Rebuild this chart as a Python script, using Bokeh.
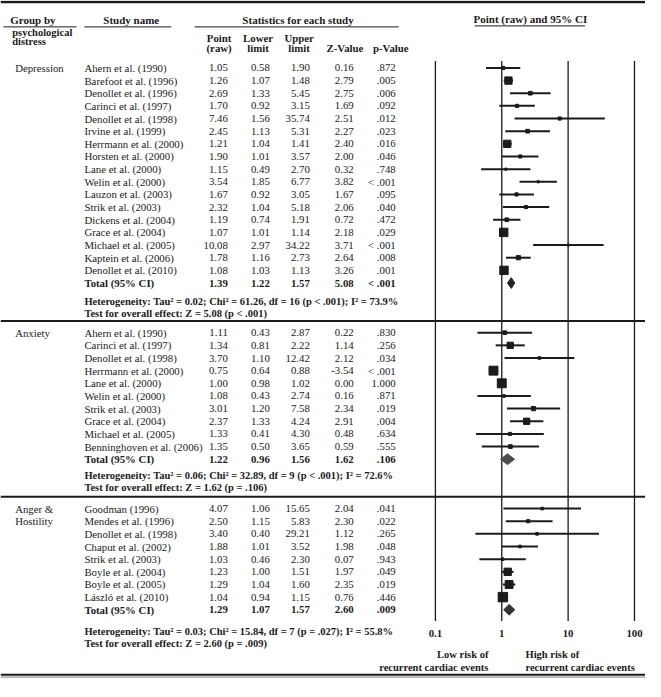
from bokeh.plotting import figure
from bokeh.models import Range1d, LogScale
from bokeh.core.properties import value
from bokeh.embed import file_html
from bokeh.resources import INLINE

# ---------------- data ----------------
group_labels = [["Depression"], ["Anxiety"], ["Anger &", "Hostility"]]

dep_names = ["Ahern et al. (1990)", "Barefoot et al. (1996)", "Denollet et al. (1996)",
             "Carinci et al. (1997)", "Denollet et al. (1998)", "Irvine et al. (1999)",
             "Herrmann et al. (2000)", "Horsten et al. (2000)", "Lane et al. (2000)",
             "Welin et al.  (2000)", "Lauzon et al. (2003)", "Strik et al. (2003)",
             "Dickens et al. (2004)", "Grace et al. (2004)", "Michael et al. (2005)",
             "Kaptein et al. (2006)", "Denollet et al. (2010)"]
dep_point = [1.05, 1.26, 2.69, 1.70, 7.46, 2.45, 1.21, 1.90, 1.15, 3.54, 1.67, 2.32, 1.19, 1.07, 10.08, 1.78, 1.08]
dep_lower = [0.58, 1.07, 1.33, 0.92, 1.56, 1.13, 1.04, 1.01, 0.49, 1.85, 0.92, 1.04, 0.74, 1.01, 2.97, 1.16, 1.03]
dep_upper = [1.90, 1.48, 5.45, 3.15, 35.74, 5.31, 1.41, 3.57, 2.70, 6.77, 3.05, 5.18, 1.91, 1.14, 34.22, 2.73, 1.13]
dep_z = [0.16, 2.79, 2.75, 1.69, 2.51, 2.27, 2.40, 2.00, 0.32, 3.82, 1.67, 2.06, 0.72, 2.18, 3.71, 2.64, 3.26]
dep_p = [".872", ".005", ".006", ".092", ".012", ".023", ".016", ".046", ".748", "< .001",
         ".095", ".040", ".472", ".029", "< .001", ".008", ".001"]
dep_weight = [3, 7, 3.5, 3, 3, 3.5, 7, 3, 2, 2, 3, 3, 3.5, 8, 2, 4, 8]
dep_total = [1.39, 1.22, 1.57, 5.08, "< .001"]
dep_het = "Heterogeneity:  Tau\u00b2 = 0.02; Chi\u00b2 = 61.26, df = 16 (p < .001); I\u00b2 = 73.9%"
dep_test = "Test for overall effect: Z = 5.08 (p < .001)"

anx_names = ["Ahern et al. (1990)", "Carinci et al. (1997)", "Denollet et al. (1998)",
             "Herrmann et al. (2000)", "Lane et al. (2000)", "Welin et al.  (2000)",
             "Strik et al. (2003)", "Grace et al. (2004)", "Michael et al. (2005)",
             "Benninghoven et al. (2006)"]
anx_point = [1.11, 1.34, 3.70, 0.75, 1.00, 1.08, 3.01, 2.37, 1.33, 1.35]
anx_lower = [0.43, 0.81, 1.10, 0.64, 0.98, 0.43, 1.20, 1.33, 0.41, 0.50]
anx_upper = [2.87, 2.22, 12.42, 0.88, 1.02, 2.74, 7.58, 4.24, 4.30, 3.65]
anx_z = [0.22, 1.14, 2.12, -3.54, 0.00, 0.16, 2.34, 2.91, 0.48, 0.59]
anx_p = [".830", ".256", ".034", "< .001", "1.000", ".871", ".019", ".004", ".634", ".555"]
anx_weight = [3.5, 6, 2.5, 8.5, 8.5, 2.5, 4, 6, 3, 3.5]
anx_total = [1.22, 0.96, 1.56, 1.62, ".106"]
anx_het = "Heterogeneity:  Tau\u00b2 = 0.06; Chi\u00b2 = 32.89, df = 9 (p < .001); I\u00b2 = 72.6%"
anx_test = "Test for overall effect: Z = 1.62 (p = .106)"

ang_names = ["Goodman (1996)", "Mendes et al. (1996)", "Denollet et al. (1998)",
             "Chaput et al. (2002)", "Strik et al. (2003)", "Boyle et al. (2004)",
             "Boyle et al. (2005)", "L\u00e1szl\u00f3 et al. (2010)"]
ang_point = [4.07, 2.50, 3.40, 1.88, 1.03, 1.23, 1.29, 1.04]
ang_lower = [1.06, 1.15, 0.40, 1.01, 0.46, 1.00, 1.04, 0.94]
ang_upper = [15.65, 5.83, 29.21, 3.52, 2.30, 1.51, 1.60, 1.15]
ang_z = [2.04, 2.30, 1.12, 1.98, 0.07, 1.97, 2.35, 0.76]
ang_p = [".041", ".022", ".265", ".048", ".943", ".049", ".019", ".446"]
ang_weight = [2.5, 3, 2.5, 2.5, 2.5, 7, 7.5, 9]
ang_total = [1.29, 1.07, 1.57, 2.60, ".009"]
ang_het = "Heterogeneity:  Tau\u00b2 = 0.03; Chi\u00b2 = 15.84, df = 7 (p = .027); I\u00b2 = 55.8%"
ang_test = "Test for overall effect: Z = 2.60 (p = .009)"

tick_values = [0.1, 1, 10, 100]
tick_labels = ["0.1", "1", "10", "100"]

sections = [
    (dep_names, dep_point, dep_lower, dep_upper, dep_z, dep_p, dep_weight, dep_total, dep_het, dep_test),
    (anx_names, anx_point, anx_lower, anx_upper, anx_z, anx_p, anx_weight, anx_total, anx_het, anx_test),
    (ang_names, ang_point, ang_lower, ang_upper, ang_z, ang_p, ang_weight, ang_total, ang_het, ang_test),
]

# ---------------- layout (reference pixel coords) ----------------
W, H = 661, 697
FONT = value("Liberation Serif")
INK = "#1c1a1a"
BODY = "10.8px"
section_top = [69, 340, 520]
row_step = 12.95
het_gap = [19, 16.5, 22]
col_right = [233, 276, 317, 362, 405]
x_group, x_study = 15, 86
one_x, decade_px = 513.7, 68.0
log_lo = -one_x / decade_px
log_hi = (W - one_x) / decade_px

p = figure(width=645, height=681, x_range=Range1d(0, W), y_range=Range1d(H, 0),
           output_backend="svg", toolbar_location=None, min_border=0,
           x_axis_location=None, y_axis_location=None,
           extra_x_ranges={"f": Range1d(10 ** log_lo, 10 ** log_hi)},
           extra_x_scales={"f": LogScale()})
p.grid.visible = False
p.outline_line_color = None
p.background_fill_color = "white"
p.border_fill_color = "white"


def txt(x, y, s, align="left", bold=False, size=BODY, **kw):
    xs = x if isinstance(x, list) else [x]
    ys = y if isinstance(y, list) else [y] * len(xs)
    ss = s if isinstance(s, list) else [s] * len(xs)
    if len(xs) == 1 and len(ss) > 1:
        xs = xs * len(ss)
    if len(ys) == 1 and len(ss) > 1:
        ys = ys * len(ss)
    p.text(x=xs, y=ys, text=ss, text_font=FONT, text_font_size=size,
           text_font_style="bold" if bold else "normal", text_align=align,
           text_baseline="middle", text_color=INK, **kw)


# ---------------- header ----------------
p.segment(x0=[0], x1=[W], y0=[1.5], y1=[1.5], line_width=2.5, line_color=INK)
txt(10, 20, "Group by", bold=True, size="11px")
txt(12, 33, "psychological", bold=True, size="10.5px")
txt(12, 42, "distress", bold=True, size="10.5px")
txt(134, 20, "Study name", align="center", bold=True, size="11px")
txt(305, 20, "Statistics for each study", align="center", bold=True, size="11px")
txt(543, 19, "Point (raw) and 95% CI", align="center", bold=True, size="11px")
p.segment(x0=[3, 86, 199, 486], x1=[78, 175, 408, 599], y0=[27, 27, 27, 26],
          y1=[27, 27, 27, 26], line_width=1, line_color=INK)
hdr_cx = [224, 264, 306]
txt(hdr_cx, 38, ["Point", "Lower", "Upper"], align="center", bold=True)
txt(hdr_cx, 49, ["(raw)", "limit", "limit"], align="center", bold=True)
txt([353, 400], 49, ["Z-Value", "p-Value"], align="center", bold=True)

# ---------------- reference lines of the forest panel ----------------
p.segment(x0=tick_values, x1=tick_values, y0=62, y1=635, x_range_name="f",
          line_width=1.3, line_color=INK)
txt(tick_values, 648, tick_labels, align="center", bold=True, x_range_name="f")

# ---------------- sections ----------------
for k, (names, pt, lo, hi, zv, pv, wt, tot, het, test) in enumerate(sections):
    n = len(names)
    ys = [section_top[k] + i * row_step for i in range(n)]
    ty = section_top[k] + n * row_step
    for j, line in enumerate(group_labels[k]):
        txt(x_group, section_top[k] + j * 13, line)
    txt(x_study, ys, names)
    cols = [[f"{v:.2f}" for v in pt], [f"{v:.2f}" for v in lo], [f"{v:.2f}" for v in hi],
            [f"{v:.2f}" for v in zv], pv]
    for cx, vals in zip(col_right, cols):
        txt(cx, ys, vals, align="right")
    txt(x_study, ty, "Total (95% CI)", bold=True)
    tvals = [f"{v:.2f}" for v in tot[:4]] + [tot[4]]
    for cx, v in zip(col_right, tvals):
        txt(cx, ty, v, align="right", bold=True)
    hy = ty + het_gap[k]
    txt(x_study, hy, het, bold=True, size="10.5px")
    txt(x_study, hy + 12, test, bold=True, size="10.5px")

    # forest marks
    p.segment(x0=lo, x1=hi, y0=ys, y1=ys, x_range_name="f", line_width=2, line_color=INK)
    p.scatter(x=pt, y=ys, size=[w * 1.05 for w in wt], marker="square", x_range_name="f",
              fill_color=INK, line_color=INK)
    p.patch(x=[tot[1], tot[0], tot[2], tot[0]], y=[ty, ty - 5.5, ty, ty + 5.5],
            x_range_name="f", fill_color=["#222222", "#4d4d4d", "#333333"][k],
            line_color=["#222222", "#4d4d4d", "#333333"][k], line_width=1)

# ---------------- separators & footer ----------------
p.segment(x0=[0, 0], x1=[W, W], y0=[328, 508], y1=[328, 508], line_width=2, line_color=INK)
txt(500, 669, "Low risk of", align="right", bold=True, size="10.5px")
txt(500, 683, "recurrent cardiac events", align="right", bold=True, size="10.5px")
txt(538, 669, "High risk of", bold=True, size="10.5px")
txt(538, 683, "recurrent cardiac events", bold=True, size="10.5px")
p.segment(x0=[0], x1=[W], y0=[690], y1=[690], line_width=2, line_color=INK)
p.segment(x0=[0], x1=[W], y0=[692.5], y1=[692.5], line_width=1.2, line_color="#9a9a9a")

open("out.html", "w").write(file_html(p, INLINE))
